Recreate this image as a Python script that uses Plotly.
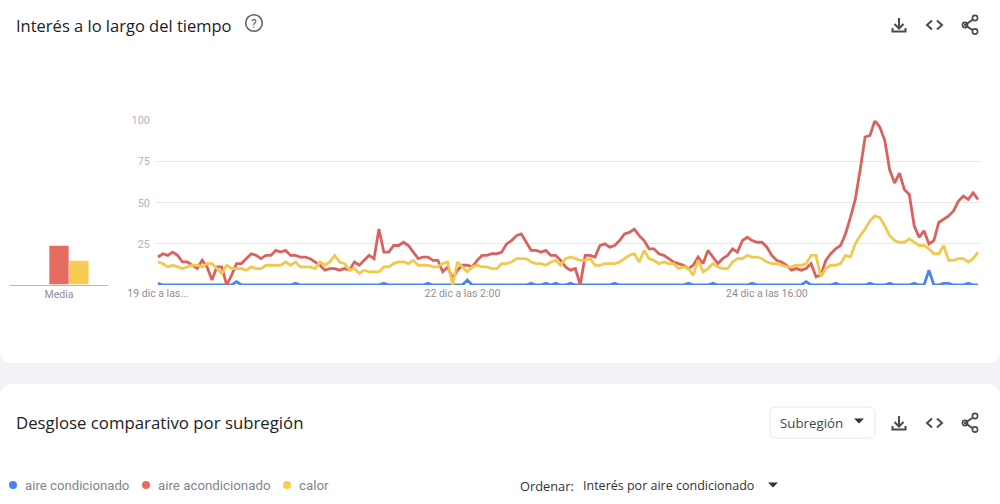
#!/usr/bin/env python3
"""Interés a lo largo del tiempo - Google Trends panel rebuilt in Plotly."""
import plotly.graph_objects as go

# --- Data ---
tick_idx = [0, 62, 124]
tick_labels = ["19 dic a las...", "22 dic a las 2:00", "24 dic a las 16:00"]

aire_condicionado = [
    1, 0, 0, 0, 0, 0, 0, 0, 0, 0, 0, 0, 0, 0, 0, 0, 2, 0, 0, 0,
    0, 0, 0, 0, 0, 0, 0, 0, 1, 0, 0, 0, 0, 0, 0, 0, 0, 0, 0, 0,
    0, 0, 0, 0, 0, 0, 1, 0, 0, 0, 0, 0, 0, 0, 0, 1, 0, 0, 0, 0,
    0, 0, 0, 3, 0, 0, 0, 0, 0, 0, 0, 0, 0, 0, 0, 0, 1, 0, 0, 1,
    0, 1, 0, 0, 1, 0, 0, 0, 0, 0, 0, 0, 0, 1, 0, 0, 0, 0, 0, 0,
    0, 0, 0, 0, 0, 0, 0, 0, 1, 0, 0, 0, 0, 1, 0, 0, 0, 0, 0, 0,
    0, 1, 0, 0, 0, 0, 0, 0, 0, 0, 0, 0, 2, 0, 0, 0, 0, 0, 1, 0,
    0, 0, 0, 0, 0, 1, 0, 0, 0, 1, 0, 0, 0, 0, 1, 0, 0, 9, 0, 0,
    1, 1, 0, 0, 0, 1, 0, 0,
]
aire_acondicionado = [
    17, 19, 18, 20, 18, 14, 14, 12, 10, 15, 11, 3, 11, 11, 0, 6, 13, 13, 16, 19,
    18, 16, 18, 18, 21, 20, 21, 18, 18, 17, 17, 16, 14, 12, 9, 10, 10, 9, 10, 9,
    14, 12, 15, 18, 16, 34, 20, 20, 24, 24, 26, 24, 20, 16, 17, 17, 15, 15, 8, 11,
    4, 9, 12, 12, 11, 15, 18, 18, 19, 19, 20, 25, 27, 30, 31, 26, 21, 21, 20, 21,
    18, 18, 15, 11, 9, 10, 0, 18, 18, 17, 24, 25, 23, 24, 27, 31, 32, 34, 30, 27,
    22, 22, 19, 18, 16, 14, 13, 12, 10, 12, 17, 13, 21, 17, 13, 16, 18, 22, 20, 27,
    29, 27, 26, 26, 23, 18, 15, 14, 12, 9, 10, 9, 10, 13, 5, 6, 15, 19, 22, 24,
    31, 41, 52, 70, 90, 91, 100, 96, 88, 70, 62, 68, 58, 55, 36, 29, 33, 25, 27, 38,
    40, 42, 45, 51, 54, 52, 56, 52,
]
calor = [
    14, 13, 11, 12, 11, 10, 11, 12, 12, 11, 13, 13, 10, 7, 12, 10, 10, 10, 9, 11,
    10, 10, 12, 12, 12, 12, 14, 12, 14, 11, 11, 11, 10, 14, 12, 14, 18, 14, 13, 9,
    10, 7, 9, 8, 8, 8, 11, 11, 13, 14, 14, 13, 15, 12, 12, 12, 11, 11, 13, 14,
    0, 14, 11, 8, 11, 12, 11, 11, 10, 10, 13, 13, 14, 16, 16, 16, 14, 13, 13, 12,
    14, 15, 12, 16, 17, 16, 15, 15, 16, 12, 12, 13, 13, 13, 14, 16, 18, 19, 14, 21,
    16, 15, 13, 14, 13, 13, 10, 11, 10, 6, 15, 8, 10, 13, 11, 10, 10, 14, 16, 16,
    18, 17, 17, 16, 14, 13, 13, 12, 11, 11, 12, 12, 13, 18, 18, 5, 10, 12, 12, 13,
    18, 17, 25, 30, 34, 39, 42, 41, 36, 30, 27, 26, 26, 28, 26, 24, 24, 22, 19, 19,
    24, 15, 15, 16, 16, 14, 16, 20,
]
hours = list(range(len(calor)))

media_labels = ["aire condicionado", "aire acondicionado", "calor"]
media_values = [0, 23.5, 14.5]

y_ticks = [25, 50, 75, 100]

# --- Colours ---
LINE_COLORS = ["#4a86e8", "#d9625f", "#f2c94f"]
BAR_COLORS = ["#4285f4", "#e66c62", "#f8cc52"]
TEXT_DARK = "#202124"
ICON = "#4a4a4a"
GREY = "#80868b"

W, H = 1000, 504


# pixel position on the page -> paper coordinates
def X(px):
    return px / W


def Y(py):
    return 1 - py / H


def poly(points, closed=False):
    d = "M " + " L ".join(f"{X(a):.5f} {Y(b):.5f}" for a, b in points)
    return d + " Z" if closed else d


def line_shape(points, color=ICON, width=2):
    return dict(type="path", xref="paper", yref="paper", path=poly(points),
                line=dict(color=color, width=width))


def tri_shape(cx, cy):
    return dict(type="path", xref="paper", yref="paper", fillcolor="#333333", line=dict(width=0),
                path=poly([(cx - 5, cy - 2.5), (cx + 5, cy - 2.5), (cx, cy + 2.5)], closed=True))


def circle(cx, cy, r, fill=None, color=ICON, width=1.5):
    return dict(type="circle", xref="paper", yref="paper",
                x0=X(cx - r), x1=X(cx + r), y0=Y(cy + r), y1=Y(cy - r),
                fillcolor=fill if fill else "rgba(0,0,0,0)",
                line=dict(color=color, width=width if not fill else 0))


def icon_row(cy):
    return [
        line_shape([(899, cy - 7), (899, cy + 3)]),
        line_shape([(894.5, cy - 1), (899, cy + 3.5), (903.5, cy - 1)]),
        line_shape([(892.5, cy + 3), (892.5, cy + 6.5), (905.5, cy + 6.5), (905.5, cy + 3)]),
        line_shape([(932, cy - 4.5), (927, cy), (932, cy + 4.5)]),
        line_shape([(937, cy - 4.5), (942, cy), (937, cy + 4.5)]),
        line_shape([(973, cy - 5.5), (965, cy), (973, cy + 5.5)]),
        circle(975, cy - 7, 2.6, color=ICON, width=1.6),
        circle(965, cy, 2.6, color=ICON, width=1.6),
        circle(975, cy + 6.5, 2.6, color=ICON, width=1.6),
    ]


def text(px, py, s, size, color, family="Roboto", anchor="left"):
    # annotations sit about 2px inside their anchor, so pull left-anchored text back
    shift = 2 if anchor == "left" else 0
    return dict(xref="paper", yref="paper", x=X(px - shift), y=Y(py), text=s, showarrow=False,
                xanchor=anchor, yanchor="middle", font=dict(size=size, color=color, family=family))


def card(y0, y1, r_top, r_bot):
    d = (f"M {X(0)} {Y(y0 + r_top)} Q {X(0)} {Y(y0)} {X(r_top)} {Y(y0)} "
         f"L {X(W - r_top)} {Y(y0)} Q {X(W)} {Y(y0)} {X(W)} {Y(y0 + r_top)} "
         f"L {X(W)} {Y(y1 - r_bot)} Q {X(W)} {Y(y1)} {X(W - r_bot)} {Y(y1)} "
         f"L {X(r_bot)} {Y(y1)} Q {X(0)} {Y(y1)} {X(0)} {Y(y1 - r_bot)} Z")
    return dict(type="path", xref="paper", yref="paper", path=d, fillcolor="white",
                line=dict(width=0), layer="below")


# --- Figure ---
fig = go.Figure()

for name, values, color in zip(media_labels, [aire_condicionado, aire_acondicionado, calor], LINE_COLORS):
    fig.add_trace(go.Scatter(x=hours, y=values, mode="lines", name=name, cliponaxis=False,
                             line=dict(color=color, width=2.8), showlegend=False))

for name, value, color in zip(media_labels, media_values, BAR_COLORS):
    fig.add_trace(go.Bar(x=["Media"], y=[value], name=name, marker=dict(color=color, line=dict(width=0)),
                         xaxis="x2", yaxis="y2", showlegend=False))

shapes = [
    dict(type="rect", xref="paper", yref="paper", x0=0, x1=1, y0=Y(396), y1=Y(350),
         fillcolor="#f1f3f7", line=dict(width=0), layer="below"),
    card(0, 363, 0, 14),
    card(384, 504, 14, 0),
    dict(type="path", xref="paper", yref="paper", line=dict(color="#e6e8ea", width=1), fillcolor="white",
         path=(f"M {X(776)} {Y(407)} L {X(869)} {Y(407)} Q {X(875)} {Y(407)} {X(875)} {Y(413)} "
               f"L {X(875)} {Y(432)} Q {X(875)} {Y(438)} {X(869)} {Y(438)} L {X(776)} {Y(438)} "
               f"Q {X(770)} {Y(438)} {X(770)} {Y(432)} L {X(770)} {Y(413)} Q {X(770)} {Y(407)} {X(776)} {Y(407)} Z")),
    tri_shape(859, 421),
    tri_shape(773, 485),
    circle(254, 23, 8.3, color="#5f6368", width=1.6),
    circle(13, 485, 4, fill=BAR_COLORS[0]),
    circle(146, 485, 4, fill=BAR_COLORS[1]),
    circle(287, 485, 4, fill=BAR_COLORS[2]),
]
shapes += icon_row(25) + icon_row(423)

annotations = [
    text(16, 25, "Interés a lo largo del tiempo", 16.5, TEXT_DARK, "Open Sans"),
    text(254, 23.5, "?", 12, "#5f6368", "Roboto", "center"),
    text(16, 422, "Desglose comparativo por subregión", 16.8, TEXT_DARK, "Open Sans"),
    text(780, 423, "Subregión", 13.3, "#444444", "Open Sans"),
    text(25, 485.5, "aire condicionado", 13.2, GREY),
    text(158, 485.5, "aire acondicionado", 13.3, GREY),
    text(299, 485.5, "calor", 13.3, GREY),
    text(520, 485.5, "Ordenar:", 12.8, "#333333", "Open Sans"),
    text(583, 485.5, "Interés por aire condicionado", 12.5, "#333333", "Open Sans"),
]

fig.update_layout(
    width=W, height=H, margin=dict(l=0, r=0, t=0, b=0, pad=0),
    paper_bgcolor="#ffffff", plot_bgcolor="rgba(0,0,0,0)",
    barmode="group", bargap=0.39, bargroupgap=0.03,
    shapes=shapes, annotations=annotations,
    xaxis=dict(domain=[X(155), X(981)], range=[-0.6, 167.6], tickmode="array", automargin=False,
               tickvals=tick_idx, ticktext=tick_labels, showgrid=False, zeroline=False,
               showline=False, ticks="", tickfont=dict(size=10.5, color="#909090", family="Roboto")),
    yaxis=dict(domain=[Y(285), Y(120.5)], range=[0, 100], tickmode="array", tickvals=y_ticks, showgrid=True,
               automargin=False, gridcolor="#e8e8e8", gridwidth=1, zeroline=False, showline=False,
               ticks="outside", ticklen=2, tickcolor="rgba(0,0,0,0)",
               tickfont=dict(size=10.8, color="#b4b4b4", family="Roboto")),
    xaxis2=dict(domain=[X(10), X(108)], anchor="y2", showgrid=False, zeroline=False, showline=True,
                automargin=False, linecolor="#b8b8b8", linewidth=1, ticks="",
                tickfont=dict(size=10.5, color="#909090", family="Roboto")),
    yaxis2=dict(domain=[Y(284.5), Y(120)], anchor="x2", range=[0, 100], visible=False, automargin=False),
)

fig.write_html("out.html", config=dict(displayModeBar=False), post_script="document.body.style.margin = '0';")
